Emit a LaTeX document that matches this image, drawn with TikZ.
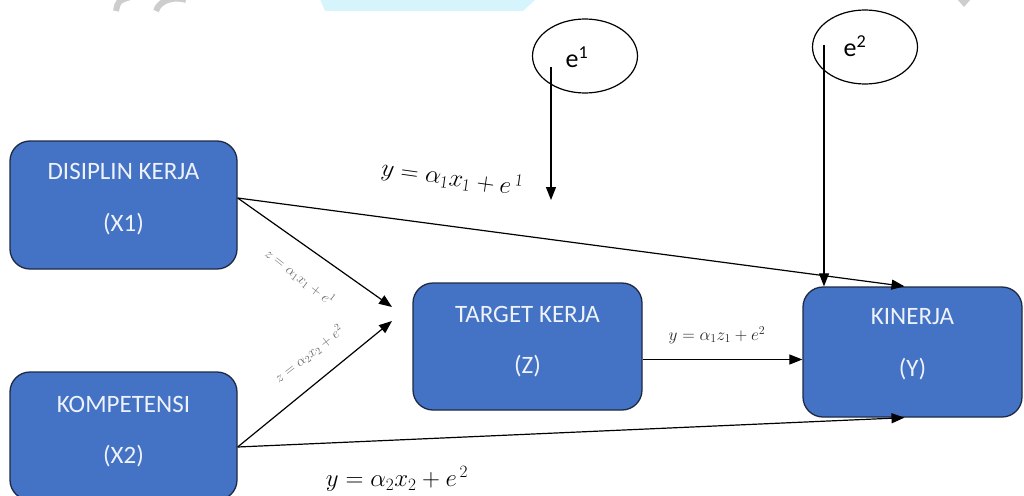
\documentclass[tikz,border=0pt]{standalone}
\usepackage{fontspec}
\setsansfont{Carlito}
\usetikzlibrary{arrows.meta,shapes.geometric}
\definecolor{boxblue}{HTML}{4472C4}
\definecolor{boxedge}{HTML}{1E2A44}
\definecolor{boxtext}{HTML}{EEF2FA}
\definecolor{markcyan}{HTML}{D6F4FB}
\definecolor{markgray}{HTML}{CDCDCD}
\definecolor{eqgray}{HTML}{262626}
\begin{document}
\begin{tikzpicture}[x=1pt,y=-1pt,
  varbox/.style={draw=boxedge, line width=1.3pt, fill=boxblue, rounded corners=20pt, inner sep=0pt},
  boxlabel/.style={text=boxtext, font=\sffamily\fontsize{25}{30}\selectfont},
  link/.style={line width=1.2pt, -{Triangle[length=13pt,width=10pt]}},
  errnode/.style={draw, ellipse, line width=1.2pt, minimum width=105pt, minimum height=74pt, inner sep=0pt},
  errlabel/.style={font=\sffamily\fontsize{26}{30}\selectfont},
  bigeq/.style={font=\fontsize{27}{32}\selectfont},
  smalleq/.style={font=\fontsize{18}{22}\selectfont, text=eqgray},
  tinyeq/.style={font=\fontsize{14}{17}\selectfont, text=eqgray!70}
]
\useasboundingbox (0,0) rectangle (1024,495);
\clip (0,0) rectangle (1024,495);

% faint marks along the top edge
\fill[markcyan] (320,-1) -- (536,-1) -- (523,11) -- (325,11) -- cycle;
\draw[markgray, line width=6pt] (130,-3) .. controls (118,1) .. (116,11);
\draw[markgray, line width=6pt] (156,11) .. controls (160,-2) and (178,-3) .. (186,0);
\fill[markgray] (957,-1) -- (971,-1) -- (964,7) -- cycle;

% variable boxes
\node[varbox, minimum width=227pt, minimum height=128pt] (x1) at (123.5,205) {};
\node[varbox, minimum width=227pt, minimum height=128pt] (x2) at (123.5,436) {};
\node[varbox, minimum width=229pt, minimum height=127pt] (z)  at (527.5,346.5) {};
\node[varbox, minimum width=219pt, minimum height=130pt] (yv) at (912.5,352) {};

\node[boxlabel] (x1a) at ([yshift=-31pt]x1.north) {DISIPLIN KERJA};
\node[boxlabel] (x1b) at ([yshift=-84pt]x1.north) {(X1)};
\node[boxlabel] (x2a) at ([yshift=-33pt]x2.north) {KOMPETENSI};
\node[boxlabel] (x2b) at ([yshift=-85pt]x2.north) {(X2)};
\node[boxlabel] (za)  at ([yshift=-32pt]z.north) {TARGET KERJA};
\node[boxlabel] (zb)  at ([yshift=-84pt]z.north) {(Z)};
\node[boxlabel] (ya)  at ([yshift=-30pt]yv.north) {KINERJA};
\node[boxlabel] (yb)  at ([yshift=-83pt]yv.north) {(Y)};

% error terms
\node[errnode] (e1) at (585,56) {};
\node[errlabel] (e1t) at (577,57) {e\textsuperscript{1}};
\node[errnode] (e2) at (865,47) {};
\node[errlabel] (e2t) at (855,46) {e\textsuperscript{2}};

% free ends of connectors
\coordinate (e1start) at ([shift={(-34,11)}]e1.center);
\coordinate (e1end) at (551,200);
\coordinate (e2start) at ([shift={(-41,-2)}]e2.center);
\coordinate (zin1) at (392,307);
\coordinate (zin2) at (392,321);

% connectors
\draw[link] (e1start) -- (e1end);
\draw[link] (e2start) -- (e2start |- yv.north);
\draw[link] ([yshift=7pt]x1.east) -- ([xshift=-8pt]yv.north);
\draw[link] ([yshift=7pt]x1.east) -- (zin1);
\draw[link] ([yshift=-11pt]x2.east) -- (zin2);
\draw[link] ([yshift=-11pt]x2.east) -- ([xshift=-8pt]yv.south);
\draw[link] ([yshift=-13pt]z.east) -- ([yshift=-13pt]z.east -| yv.west);

% equations
\node[bigeq, rotate=-8] (eqa) at (452,178) {$y = \alpha_1 x_1 + e^{\,1}$};
\node[bigeq] (eqb) at (397,479) {$y = \alpha_2 x_2 + e^{\,2}$};
\node[smalleq] (eqc) at (717,335) {$y = \alpha_1 z_1 + e^2$};
\node[tinyeq, rotate=-38] (eqd) at (300,277) {$z = \alpha_1 x_1 + e^1$};
\node[tinyeq, rotate=38] (eqe) at (309,354) {$z = \alpha_2 x_2 + e^2$};
\end{tikzpicture}
\end{document}
